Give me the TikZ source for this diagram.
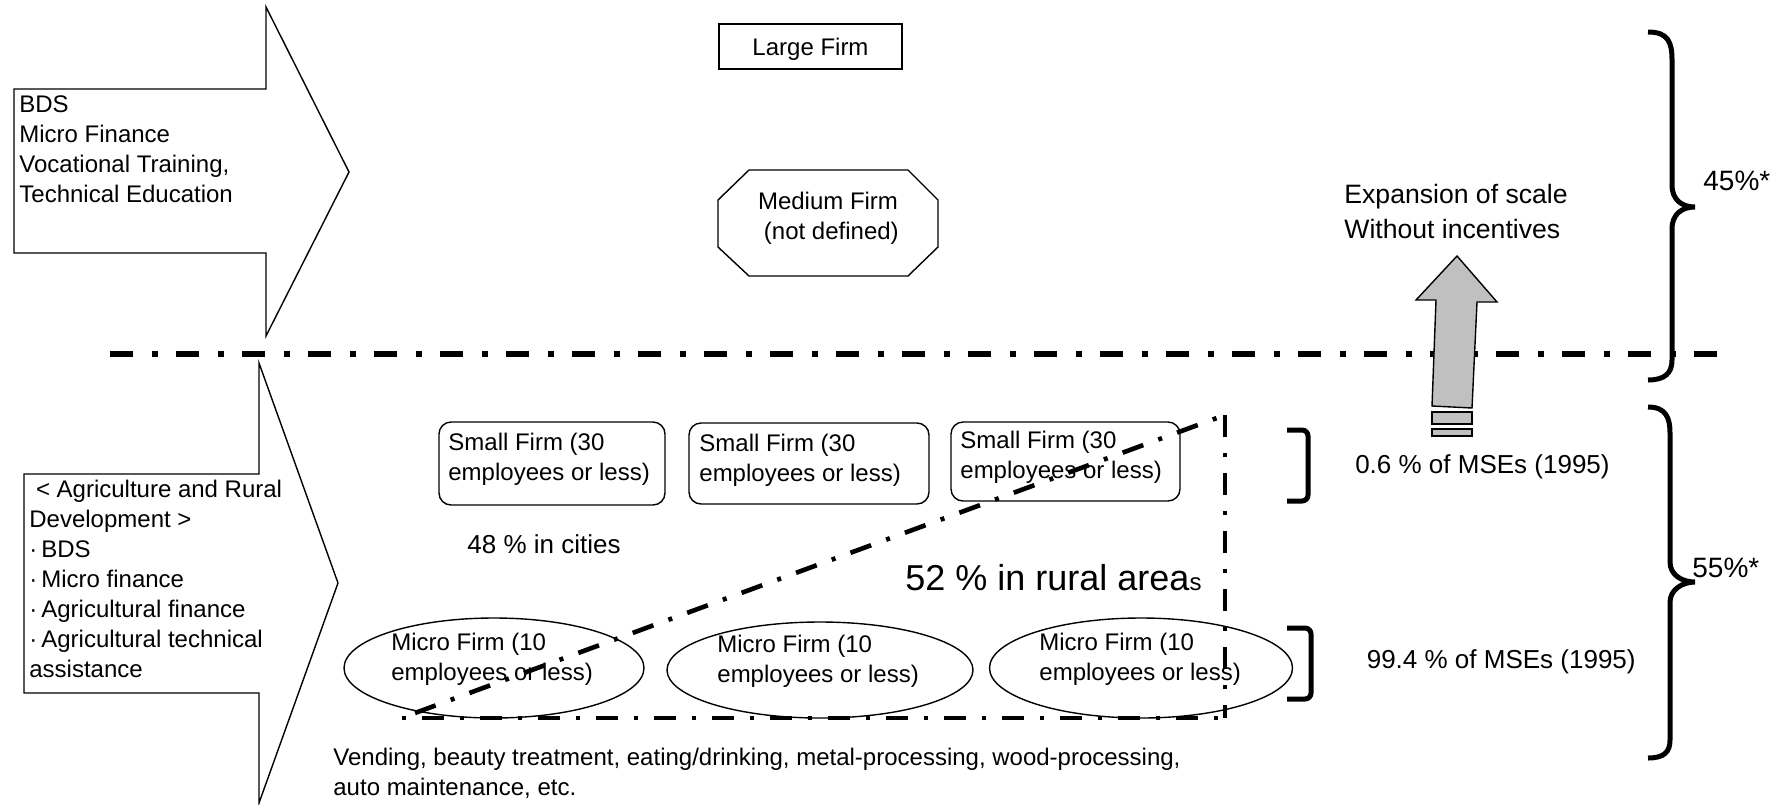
\documentclass[tikz,border=0pt]{standalone}
\usepackage{fontspec}
\setmainfont{Liberation Sans}
\usetikzlibrary{shapes.geometric}
\definecolor{arrowgray}{RGB}{192,192,192}
\newcommand{\leftlines}[1]{\begin{tabular}[t]{@{}l@{}}#1\end{tabular}}
\newcommand{\midlines}[1]{\begin{tabular}[t]{@{}c@{}}#1\end{tabular}}
\newcommand{\bul}{·\hspace{2pt}}

\begin{document}
\begin{tikzpicture}[x=0.5pt,y=-0.5pt,
  shapeline/.style={draw=black,line width=0.7pt},
  txt/.style={inner sep=0pt,anchor=base west,font=\fontsize{12}{15}\selectfont},
  bigdashdot/.style={line width=3pt,dash pattern=on 11.5pt off 9.5pt on 3pt off 9pt},
  dashdot/.style={line width=2.3pt,dash pattern=on 11pt off 8pt on 2pt off 8pt},
  bracestroke/.style={line width=2.5pt},
  smallfirm/.style={shapeline,rounded corners=6pt,inner sep=0pt},
  microfirm/.style={shapeline,ellipse,inner sep=0pt},
]
\useasboundingbox (0,0) rectangle (1782,804);

% support arrows on the left
\draw[shapeline] (14,89) -- (266,89) -- (266,7) -- (349,172) -- (266,336) -- (266,253) -- (14,253) -- cycle;
\node[txt] (support) at (19,112) {\leftlines{BDS\\Micro Finance\\Vocational Training,\\Technical Education}};

\draw[shapeline] (24,474) -- (259,474) -- (259,363) -- (338,583) -- (259,803) -- (259,693) -- (24,693) -- cycle;
\node[txt] (agri) at (29,497) {\leftlines{\hspace{3.3pt}< Agriculture and Rural\\Development >\\\bul BDS\\\bul Micro finance\\\bul Agricultural finance\\\bul Agricultural technical\\assistance}};

% dividing line
\draw[bigdashdot] (110,354) -- (1727,354);

% large and medium firms
\node[shapeline,minimum width=91.5pt,minimum height=22.5pt,inner sep=0pt,text depth=0pt,font=\fontsize{12}{15}\selectfont] (large) at (810.5,46.5) {Large Firm};
\draw[shapeline] (749,170) -- (908,170) -- (938,200) -- (938,247) -- (908,276) -- (749,276) -- (718,247) -- (718,200) -- cycle;
\node[txt,anchor=base] (medium) at (828,209) {\midlines{Medium Firm\\~(not defined)}};

% small firms
\node[smallfirm,minimum width=113pt,minimum height=41.5pt] (small1) at (552,463.5) {};
\node[smallfirm,minimum width=120pt,minimum height=40.5pt] (small2) at (809,463.5) {};
\node[smallfirm,minimum width=114.5pt,minimum height=39.5pt] (small3) at (1065.5,461.5) {};
\node[txt] (small1t) at (448,450) {\leftlines{Small Firm (30\\employees or less)}};
\node[txt] (small2t) at (699,451) {\leftlines{Small Firm (30\\employees or less)}};
\node[txt] (small3t) at (960,448) {\leftlines{Small Firm (30\\employees or less)}};

% micro firms
\node[microfirm,minimum width=150pt,minimum height=50pt] (micro1) at (494,668) {};
\node[microfirm,minimum width=153pt,minimum height=48pt] (micro2) at (820,670) {};
\node[microfirm,minimum width=151.5pt,minimum height=50pt] (micro3) at (1141,668) {};
\node[txt] (micro1t) at (391,650) {\leftlines{Micro Firm (10\\employees or less)}};
\node[txt] (micro2t) at (717,652) {\leftlines{Micro Firm (10\\employees or less)}};
\node[txt] (micro3t) at (1039,650) {\leftlines{Micro Firm (10\\employees or less)}};

\node[txt,font=\fontsize{13}{16}\selectfont] (cities) at (467,553) {48 \% in cities};
\node[txt,font=\fontsize{18}{21}\selectfont] (rural) at (905,590) {52 \% in rural area{\fontsize{12}{15}\selectfont s}};

\node[txt] (trades) at (333,765) {\leftlines{Vending, beauty treatment, eating/drinking, metal-processing, wood-processing,\\auto maintenance, etc.}};

% rural area boundary
\coordinate (rA) at (415,713);
\coordinate (rB) at (1225,415);
\coordinate (rC) at (1225,718);
\coordinate (rD) at (402,718);
\draw[dashdot] (rA) -- (rB);
\draw[dashdot] (rB) -- (rC);
\draw[dashdot,dash phase=19pt] (rD) -- (rC);

% growth arrow
\draw[shapeline,fill=arrowgray] (1457,256) -- (1497,302) -- (1477,302) -- (1472,408) -- (1432,406) -- (1436,300) -- (1416,300) -- cycle;
\draw[shapeline,fill=arrowgray] (1432,412) rectangle (1472,424);
\draw[shapeline,fill=arrowgray] (1432,429) rectangle (1472,436);
\node[txt,font=\fontsize{13.3}{17.5}\selectfont] (expansion) at (1344,203) {\leftlines{Expansion of scale\\Without incentives}};

% braces
\draw[bracestroke] (1648,32) .. controls (1668,32) and (1672,42) .. (1672,60) -- (1672,185)
  .. controls (1672,200) and (1682,207) .. (1695,207)
  .. controls (1682,207) and (1672,214) .. (1672,229) -- (1672,360)
  .. controls (1672,373) and (1665,380) .. (1648,380);
\draw[bracestroke] (1648,407) .. controls (1666,407) and (1670,418) .. (1670,433) -- (1670,562)
  .. controls (1670,575) and (1682,582) .. (1695,582)
  .. controls (1682,582) and (1670,590) .. (1670,602) -- (1670,740)
  .. controls (1670,752) and (1664,758) .. (1648,758);
\node[txt,font=\fontsize{14}{17}\selectfont] (upper) at (1703,190) {45\%*};
\node[txt,font=\fontsize{14}{17}\selectfont] (lower) at (1692,577) {55\%*};

% share brackets
\draw[bracestroke,rounded corners=3pt] (1287,430) -- (1308,430) -- (1308,501) -- (1287,501);
\draw[bracestroke,rounded corners=3pt] (1287,628) -- (1311,628) -- (1311,699) -- (1287,699);
\node[txt,anchor=base east,font=\fontsize{13}{16}\selectfont] (share1) at (1610,473) {0.6 \% of MSEs (1995)};
\node[txt,anchor=base east,font=\fontsize{13}{16}\selectfont] (share2) at (1636,668) {99.4 \% of MSEs (1995)};
\end{tikzpicture}
\end{document}
